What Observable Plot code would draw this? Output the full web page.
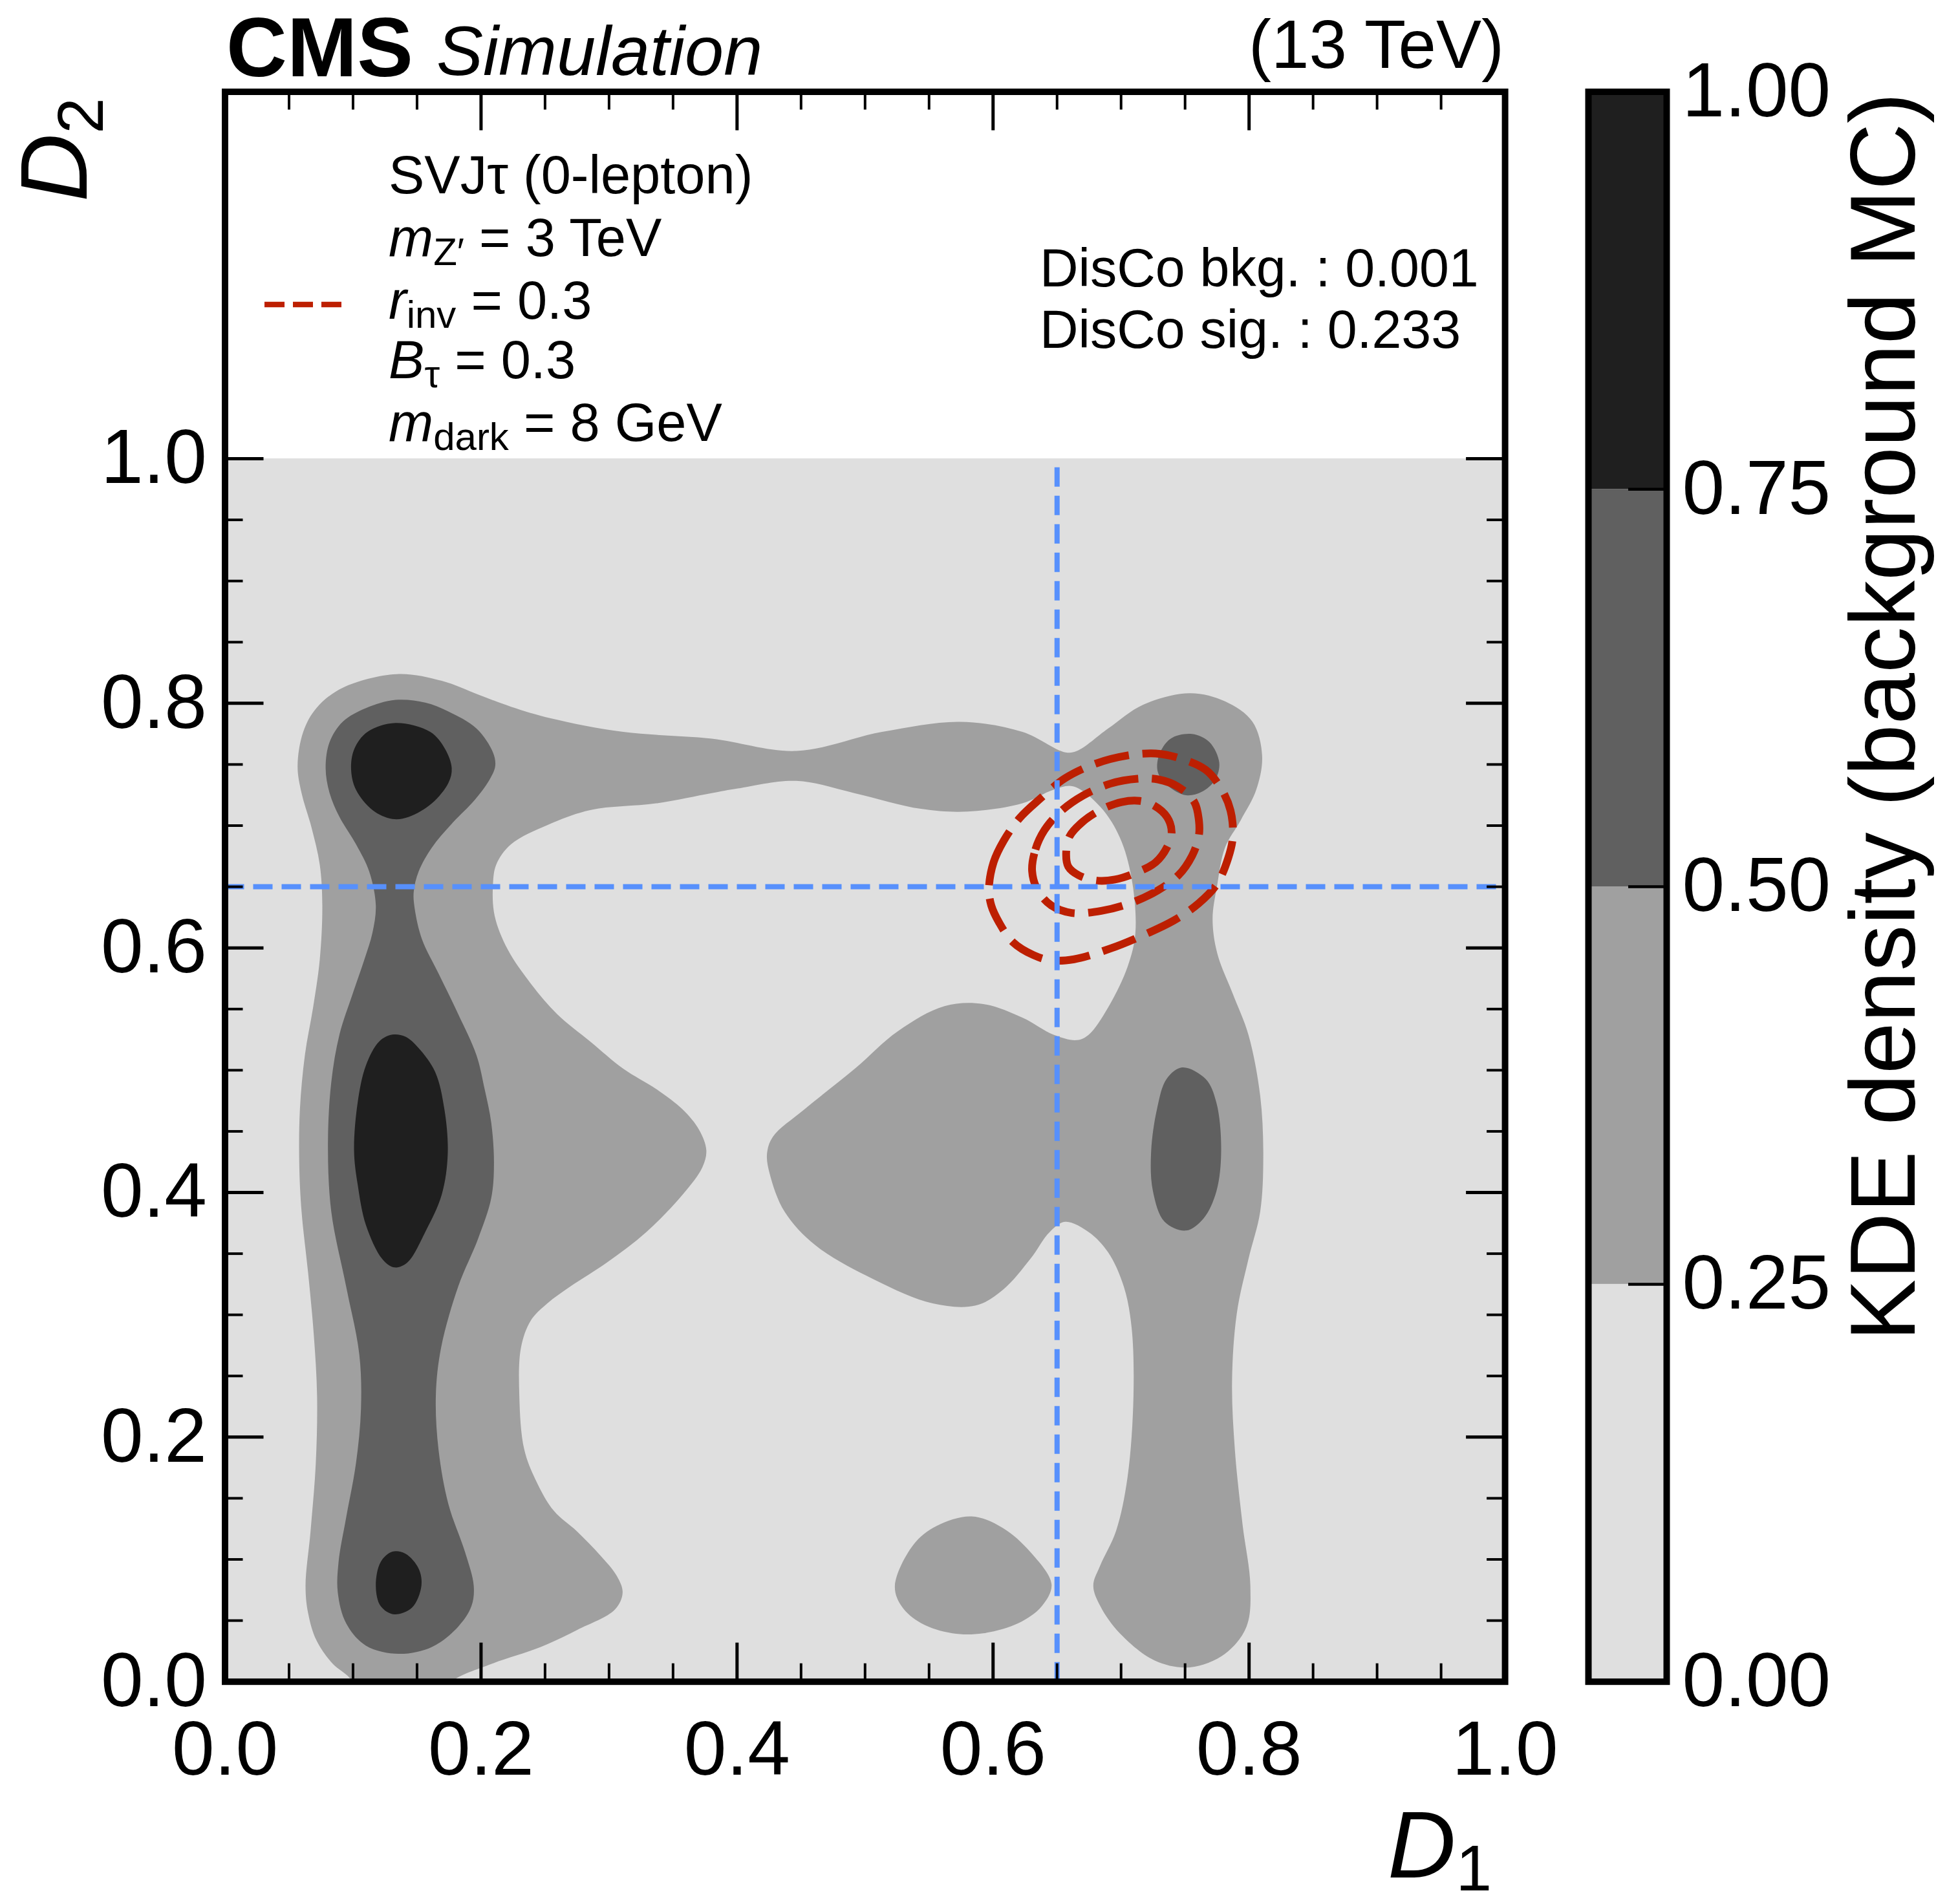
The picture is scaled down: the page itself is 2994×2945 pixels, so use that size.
<!DOCTYPE html>
<html><head><meta charset="utf-8">
<script src="https://cdn.jsdelivr.net/npm/d3@7"></script>
<script src="https://cdn.jsdelivr.net/npm/@observablehq/plot@0.6"></script>
<style>
html,body{margin:0;padding:0;background:#fff;}
#wrap{position:relative;width:2994px;height:2945px;font-family:"Liberation Sans",Arial,sans-serif;}
#wrap svg{position:absolute;left:0;top:0;}
</style></head><body><div id="wrap"></div>
<script>
// ---------------- data ----------------
const d1Range = [0, 1];
const d2Range = [0, 1];
const levelBreaks = [0, 0.25, 0.5, 0.75, 1.0];
const levelColors = ["#dfdfdf", "#a0a0a0", "#606060", "#1f1f1f"];
const xMajor = [0, 0.2, 0.4, 0.6, 0.8, 1.0];
const xMinor = [0.05,0.1,0.15,0.25,0.3,0.35,0.45,0.5,0.55,0.65,0.7,0.75,0.85,0.9,0.95];
const yMajor = [0, 0.2, 0.4, 0.6, 0.8, 1.0];
const yMinor = [0.05,0.1,0.15,0.25,0.3,0.35,0.45,0.5,0.55,0.65,0.7,0.75,0.85,0.9,0.95];
const cutD1 = [0.65];
const cutD2 = [0.65];

// background KDE, 0.25 contour (outline)
const lvl1Main = [[0.1049,-0.0106],[0.0972,0.0033],[0.0843,0.0145],[0.0714,0.0339],[0.0649,0.0562],[0.0629,0.0784],[0.0668,0.1229],[0.0709,0.1786],[0.0719,0.2342],[0.0693,0.2843],[0.0649,0.3344],[0.0598,0.3844],[0.0580,0.4234],[0.0585,0.4679],[0.0624,0.5124],[0.0688,0.5513],[0.0740,0.5903],[0.0760,0.6348],[0.0740,0.6682],[0.0675,0.6987],[0.0598,0.7266],[0.0567,0.7488],[0.0611,0.7766],[0.0714,0.7961],[0.0920,0.8128],[0.1340,0.8239],[0.1693,0.8184],[0.1977,0.8072],[0.2235,0.7972],[0.2544,0.7878],[0.3111,0.7766],[0.3802,0.7711],[0.4463,0.7610],[0.5133,0.7766],[0.5742,0.7849],[0.6229,0.7766],[0.6564,0.7599],[0.6655,0.7610],[0.6899,0.7794],[0.7173,0.7989],[0.7538,0.8083],[0.7812,0.8016],[0.8026,0.7850],[0.8102,0.7571],[0.8056,0.7293],[0.7934,0.7043],[0.7812,0.6820],[0.7751,0.6514],[0.7715,0.6236],[0.7751,0.5958],[0.7873,0.5624],[0.7995,0.5290],[0.8087,0.4790],[0.8111,0.4289],[0.8087,0.3844],[0.7995,0.3455],[0.7904,0.3010],[0.7867,0.2454],[0.7889,0.1898],[0.7949,0.1286],[0.8010,0.0785],[0.7980,0.0451],[0.7812,0.0229],[0.7538,0.0118],[0.7264,0.0173],[0.6990,0.0396],[0.6838,0.0618],[0.6783,0.0785],[0.6838,0.0952],[0.6960,0.1230],[0.7051,0.1675],[0.7097,0.2342],[0.7082,0.2899],[0.7021,0.3232],[0.6899,0.3511],[0.6747,0.3677],[0.6564,0.3761],[0.6442,0.3677],[0.6290,0.3455],[0.6077,0.3204],[0.5864,0.3076],[0.5529,0.3093],[0.5072,0.3288],[0.4615,0.3566],[0.4371,0.3844],[0.4256,0.4150],[0.4234,0.4317],[0.4280,0.4456],[0.4524,0.4678],[0.4920,0.5012],[0.5255,0.5318],[0.5620,0.5524],[0.5924,0.5541],[0.6229,0.5430],[0.6473,0.5290],[0.6655,0.5246],[0.6747,0.5290],[0.6899,0.5513],[0.7051,0.5847],[0.7112,0.6125],[0.7082,0.6570],[0.6990,0.6904],[0.6838,0.7154],[0.6625,0.7321],[0.6473,0.7293],[0.6229,0.7182],[0.5803,0.7115],[0.5437,0.7137],[0.4920,0.7265],[0.4463,0.7366],[0.4006,0.7304],[0.3802,0.7266],[0.3369,0.7182],[0.2853,0.7127],[0.2518,0.7004],[0.2235,0.6848],[0.2119,0.6682],[0.2093,0.6515],[0.2106,0.6264],[0.2209,0.5986],[0.2389,0.5708],[0.2595,0.5458],[0.2853,0.5235],[0.3111,0.5013],[0.3369,0.4846],[0.3575,0.4679],[0.3704,0.4512],[0.3760,0.4345],[0.3729,0.4206],[0.3575,0.3983],[0.3291,0.3677],[0.2982,0.3427],[0.2698,0.3232],[0.2518,0.3093],[0.2389,0.2954],[0.2312,0.2732],[0.2299,0.2342],[0.2338,0.1897],[0.2441,0.1619],[0.2570,0.1396],[0.2750,0.1229],[0.2930,0.1035],[0.3059,0.0868],[0.3106,0.0729],[0.3046,0.0590],[0.2750,0.0423],[0.2466,0.0284],[0.2080,0.0145],[0.1771,0.0],[0.1719,-0.0106]];
const lvl1Blob = [[0.5233,0.0785],[0.5376,0.1118],[0.5559,0.1274],[0.5833,0.1352],[0.6077,0.1257],[0.6290,0.1062],[0.6457,0.0796],[0.6381,0.0618],[0.6199,0.0479],[0.5924,0.0396],[0.5681,0.0396],[0.5437,0.0479],[0.5285,0.0618]];

// 0.5 contour
const lvl2Left = [[0.1332,0.8028],[0.1101,0.7961],[0.0920,0.7850],[0.0817,0.7683],[0.0786,0.7471],[0.0817,0.7266],[0.0894,0.7071],[0.1023,0.6848],[0.1126,0.6626],[0.1178,0.6348],[0.1152,0.6125],[0.1088,0.5903],[0.0997,0.5624],[0.0894,0.5291],[0.0830,0.4901],[0.0804,0.4401],[0.0830,0.3844],[0.0946,0.3232],[0.1049,0.2676],[0.1062,0.2231],[0.1023,0.1786],[0.0946,0.1341],[0.0887,0.0979],[0.0881,0.0729],[0.0946,0.0478],[0.1101,0.0295],[0.1358,0.0228],[0.1616,0.0284],[0.1822,0.0451],[0.1925,0.0618],[0.1943,0.0784],[0.1874,0.1063],[0.1745,0.1452],[0.1668,0.1897],[0.1647,0.2342],[0.1688,0.2732],[0.1822,0.3232],[0.1977,0.3622],[0.2080,0.3956],[0.2101,0.4234],[0.2080,0.4568],[0.2028,0.4846],[0.1964,0.5124],[0.1822,0.5458],[0.1668,0.5791],[0.1539,0.6070],[0.1482,0.6320],[0.1474,0.6459],[0.1513,0.6626],[0.1616,0.6821],[0.1771,0.7015],[0.1951,0.7210],[0.2067,0.7377],[0.2111,0.7488],[0.2093,0.7599],[0.1964,0.7794],[0.1745,0.7933],[0.1564,0.8006]];
const lvl2RightTop = [[0.7295,0.7571],[0.7386,0.7710],[0.7554,0.7749],[0.7691,0.7682],[0.7767,0.7515],[0.7736,0.7376],[0.7630,0.7276],[0.7508,0.7248],[0.7371,0.7321],[0.7289,0.7432]];
const lvl2RightMid = [[0.7477,0.5023],[0.7356,0.4929],[0.7280,0.4679],[0.7234,0.4317],[0.7249,0.4011],[0.7340,0.3761],[0.7508,0.3689],[0.7645,0.3789],[0.7745,0.4011],[0.7782,0.4345],[0.7745,0.4734],[0.7660,0.4929]];

// 0.75 contour
const lvl3Top = [[0.1332,0.7839],[0.1113,0.7766],[0.1010,0.7627],[0.0985,0.7460],[0.1023,0.7293],[0.1152,0.7127],[0.1307,0.7054],[0.1436,0.7071],[0.1616,0.7182],[0.1745,0.7349],[0.1771,0.7471],[0.1719,0.7627],[0.1603,0.7766]];
const lvl3Mid = [[0.1307,0.5291],[0.1204,0.5235],[0.1101,0.5040],[0.1036,0.4734],[0.1008,0.4345],[0.1036,0.4067],[0.1101,0.3733],[0.1229,0.3455],[0.1320,0.3388],[0.1423,0.3427],[0.1564,0.3677],[0.1693,0.3983],[0.1740,0.4317],[0.1714,0.4679],[0.1642,0.4985],[0.1513,0.5180],[0.1410,0.5274]];
const lvl3Bot = [[0.1307,0.1063],[0.1216,0.0979],[0.1178,0.0784],[0.1216,0.0618],[0.1320,0.0551],[0.1461,0.0606],[0.1534,0.0784],[0.1513,0.0924],[0.1410,0.1046]];

// signal KDE contours (red dashed)
const sigOuter = [[0.5968,0.6488],[0.6004,0.6700],[0.6083,0.6876],[0.6207,0.7061],[0.6367,0.7219],[0.6562,0.7387],[0.6810,0.7510],[0.7040,0.7572],[0.7270,0.7590],[0.7448,0.7554],[0.7660,0.7457],[0.7784,0.7299],[0.7855,0.7123],[0.7873,0.6911],[0.7837,0.6735],[0.7749,0.6523],[0.7607,0.6365],[0.7412,0.6224],[0.7164,0.6100],[0.6916,0.5995],[0.6633,0.5907],[0.6455,0.5898],[0.6314,0.5942],[0.6154,0.6048],[0.6048,0.6206],[0.5986,0.6347]];
const sigMiddle = [[0.6305,0.6629],[0.6331,0.6805],[0.6402,0.6964],[0.6526,0.7114],[0.6703,0.7246],[0.6916,0.7343],[0.7129,0.7383],[0.7288,0.7378],[0.7448,0.7316],[0.7572,0.7193],[0.7607,0.7052],[0.7607,0.6911],[0.7554,0.6752],[0.7448,0.6594],[0.7288,0.6471],[0.7093,0.6374],[0.6845,0.6303],[0.6615,0.6286],[0.6455,0.6347],[0.6349,0.6471]];
const sigInner = [[0.6571,0.6770],[0.6597,0.6911],[0.6703,0.7034],[0.6845,0.7131],[0.7005,0.7193],[0.7146,0.7202],[0.7253,0.7167],[0.7359,0.7070],[0.7395,0.6946],[0.7359,0.6823],[0.7270,0.6700],[0.7129,0.6620],[0.6952,0.6559],[0.6810,0.6550],[0.6668,0.6594],[0.6588,0.6664]];

// ---------------- build ----------------
const toPts = (arr, id) => arr.map(([d1, d2]) => ({d1, d2, id}));
const level1 = [...toPts(lvl1Main, "main"), ...toPts(lvl1Blob, "blob")];
const level2 = [...toPts(lvl2Left, "left"), ...toPts(lvl2RightTop, "rt"), ...toPts(lvl2RightMid, "rm")];
const level3 = [...toPts(lvl3Top, "t"), ...toPts(lvl3Mid, "m"), ...toPts(lvl3Bot, "b")];
const signal = [...toPts(sigOuter, "o"), ...toPts(sigMiddle, "mi"), ...toPts(sigInner, "in")];
const kdeBox = [{x1: d1Range[0], x2: d1Range[1], y1: d2Range[0], y2: d2Range[1]}];
const bands = levelColors.map((c, i) => ({lo: levelBreaks[i], hi: levelBreaks[i + 1], color: c}));

const W = 2994, H = 2945;
const mL = 347.5, mR = W - 2327.1, mT = 141.5, mB = H - 2600.7;
const fw = W - mL - mR, fh = H - mT - mB;
const FONT = '"Liberation Sans", Arial, Helvetica, sans-serif';
const RED = "#bd1f01", BLUE = "#5790fc";
const tickFont = 118;

const contour = (data, fill) => Plot.line(data, {x: "d1", y: "d2", z: "id", fill, stroke: "none", curve: "catmull-rom-closed", clip: true});

const main = Plot.plot({
  width: W, height: H,
  marginLeft: mL, marginRight: mR, marginTop: mT, marginBottom: mB,
  x: {domain: [0, 1]},
  y: {domain: [0, 1.3]},
  style: {fontFamily: FONT, background: "transparent", color: "black"},
  marks: [
    Plot.rect(kdeBox, {x1: "x1", x2: "x2", y1: "y1", y2: "y2", fill: levelColors[0]}),
    contour(level1, levelColors[1]),
    contour(level2, levelColors[2]),
    contour(level3, levelColors[3]),
    Plot.line(signal, {x: "d1", y: "d2", z: "id", fill: "none", stroke: RED, strokeWidth: 12, strokeDasharray: "54,21", strokeLinecap: "butt", curve: "catmull-rom-closed"}),
    Plot.ruleX(cutD1, {y1: d2Range[0], y2: d2Range[1], stroke: BLUE, strokeWidth: 8, strokeDasharray: "30,14", strokeLinecap: "butt"}),
    Plot.ruleY(cutD2, {x1: d1Range[0], x2: d1Range[1], stroke: BLUE, strokeWidth: 8, strokeDasharray: "30,14", strokeLinecap: "butt"}),
    // inward ticks
    Plot.ruleX(xMajor, {insetTop: fh - 60, strokeWidth: 5}),
    Plot.ruleX(xMinor, {insetTop: fh - 28, strokeWidth: 4}),
    Plot.ruleX(xMajor, {insetBottom: fh - 60, strokeWidth: 5}),
    Plot.ruleX(xMinor, {insetBottom: fh - 28, strokeWidth: 4}),
    Plot.ruleY(yMajor, {insetRight: fw - 60, strokeWidth: 5}),
    Plot.ruleY(yMinor, {insetRight: fw - 28, strokeWidth: 4}),
    Plot.ruleY(yMajor, {insetLeft: fw - 60, strokeWidth: 5}),
    Plot.ruleY(yMinor, {insetLeft: fw - 28, strokeWidth: 4}),
    Plot.axisX({ticks: xMajor, tickFormat: d3.format(".1f"), tickSize: 0, tickPadding: 60, fontSize: tickFont, label: null}),
    Plot.axisY({ticks: yMajor, tickFormat: d3.format(".1f"), tickSize: 0, tickPadding: 28, fontSize: tickFont, label: null}),
    Plot.frame({stroke: "black", strokeWidth: 10})
  ]
});

const cbL = 2456, cbR = 2577;
const cbW = cbR - cbL;
const colorbar = Plot.plot({
  width: W, height: H,
  marginLeft: cbL, marginRight: W - cbR, marginTop: mT, marginBottom: mB,
  x: {domain: [0, 1], axis: null},
  y: {domain: [levelBreaks[0], levelBreaks[levelBreaks.length - 1]]},
  color: {type: "identity"},
  style: {fontFamily: FONT, background: "transparent", color: "black"},
  marks: [
    Plot.rect(bands, {x1: 0, x2: 1, y1: "lo", y2: "hi", fill: "color"}),
    Plot.ruleY(levelBreaks, {insetLeft: cbW - 59, strokeWidth: 4.5}),
    Plot.axisY({anchor: "right", ticks: levelBreaks, tickFormat: d3.format(".2f"), tickSize: 0, tickPadding: 24, fontSize: tickFont, label: null}),
    Plot.frame({stroke: "black", strokeWidth: 10})
  ]
});

const wrap = document.getElementById("wrap");
wrap.appendChild(main);
wrap.appendChild(colorbar);

// ---------------- text ----------------
function rich(sel, x, y, size, parts, attrs = {}) {
  const t = sel.append("text").attr("x", x).attr("y", y).attr("font-size", size)
    .attr("fill", "black").attr("text-anchor", "start").attr("font-family", FONT);
  for (const [k, v] of Object.entries(attrs)) t.attr(k, v);
  let shift = 0;
  for (const p of parts) {
    const ts = t.append("tspan").text(p.t);
    const target = p.sub || 0;
    ts.attr("dy", target - shift);
    shift = target;
    if (p.i) ts.attr("font-style", "italic");
    if (p.s) ts.attr("font-size", p.s);
    if (p.b) ts.attr("font-weight", "bold");
  }
  return t;
}
const s = d3.select(main);
rich(s, 350, 118, 130, [{t: "CMS", b: 1}]);
rich(s, 675, 116, 108, [{t: "Simulation", i: 1}]);
rich(s, 2326, 105, 105, [{t: "(13 TeV)"}], {"text-anchor": "end"});

const legX = 601, legSize = 83, subSize = 60, subDy = 14;
rich(s, legX, 299, legSize, [{t: "SVJτ (0-lepton)"}]);
rich(s, legX, 396, legSize, [{t: "m", i: 1}, {t: "Z′", s: subSize, sub: subDy}, {t: " = 3 TeV"}]);
rich(s, legX, 493, legSize, [{t: "r", i: 1}, {t: "inv", s: subSize, sub: subDy}, {t: " = 0.3"}]);
rich(s, legX, 585, legSize, [{t: "B", i: 1}, {t: "τ", s: subSize, sub: subDy}, {t: " = 0.3"}]);
rich(s, legX, 682, legSize, [{t: "m", i: 1}, {t: "dark", s: subSize, sub: subDy}, {t: " = 8 GeV"}]);
s.append("line").attr("x1", 409).attr("x2", 528).attr("y1", 471).attr("y2", 471)
  .attr("stroke", RED).attr("stroke-width", 8.6).attr("stroke-dasharray", "31,13");

rich(s, 1608, 443, 82.5, [{t: "DisCo bkg. : 0.001"}]);
rich(s, 1608, 538, 82.5, [{t: "DisCo sig. : 0.233"}]);

rich(s, 2307, 2904, 146, [{t: "D", i: 1}, {t: "1", s: 100, sub: 20}], {"text-anchor": "end"});
rich(s, 0, 0, 146, [{t: "D", i: 1}, {t: "2", s: 100, sub: 25}], {"text-anchor": "end", transform: "translate(134,151) rotate(-90)"});

const c = d3.select(colorbar);
rich(c, 0, 0, 143, [{t: "KDE density (background MC)"}], {"text-anchor": "end", transform: "translate(2961,143) rotate(-90)"});
</script></body></html>
